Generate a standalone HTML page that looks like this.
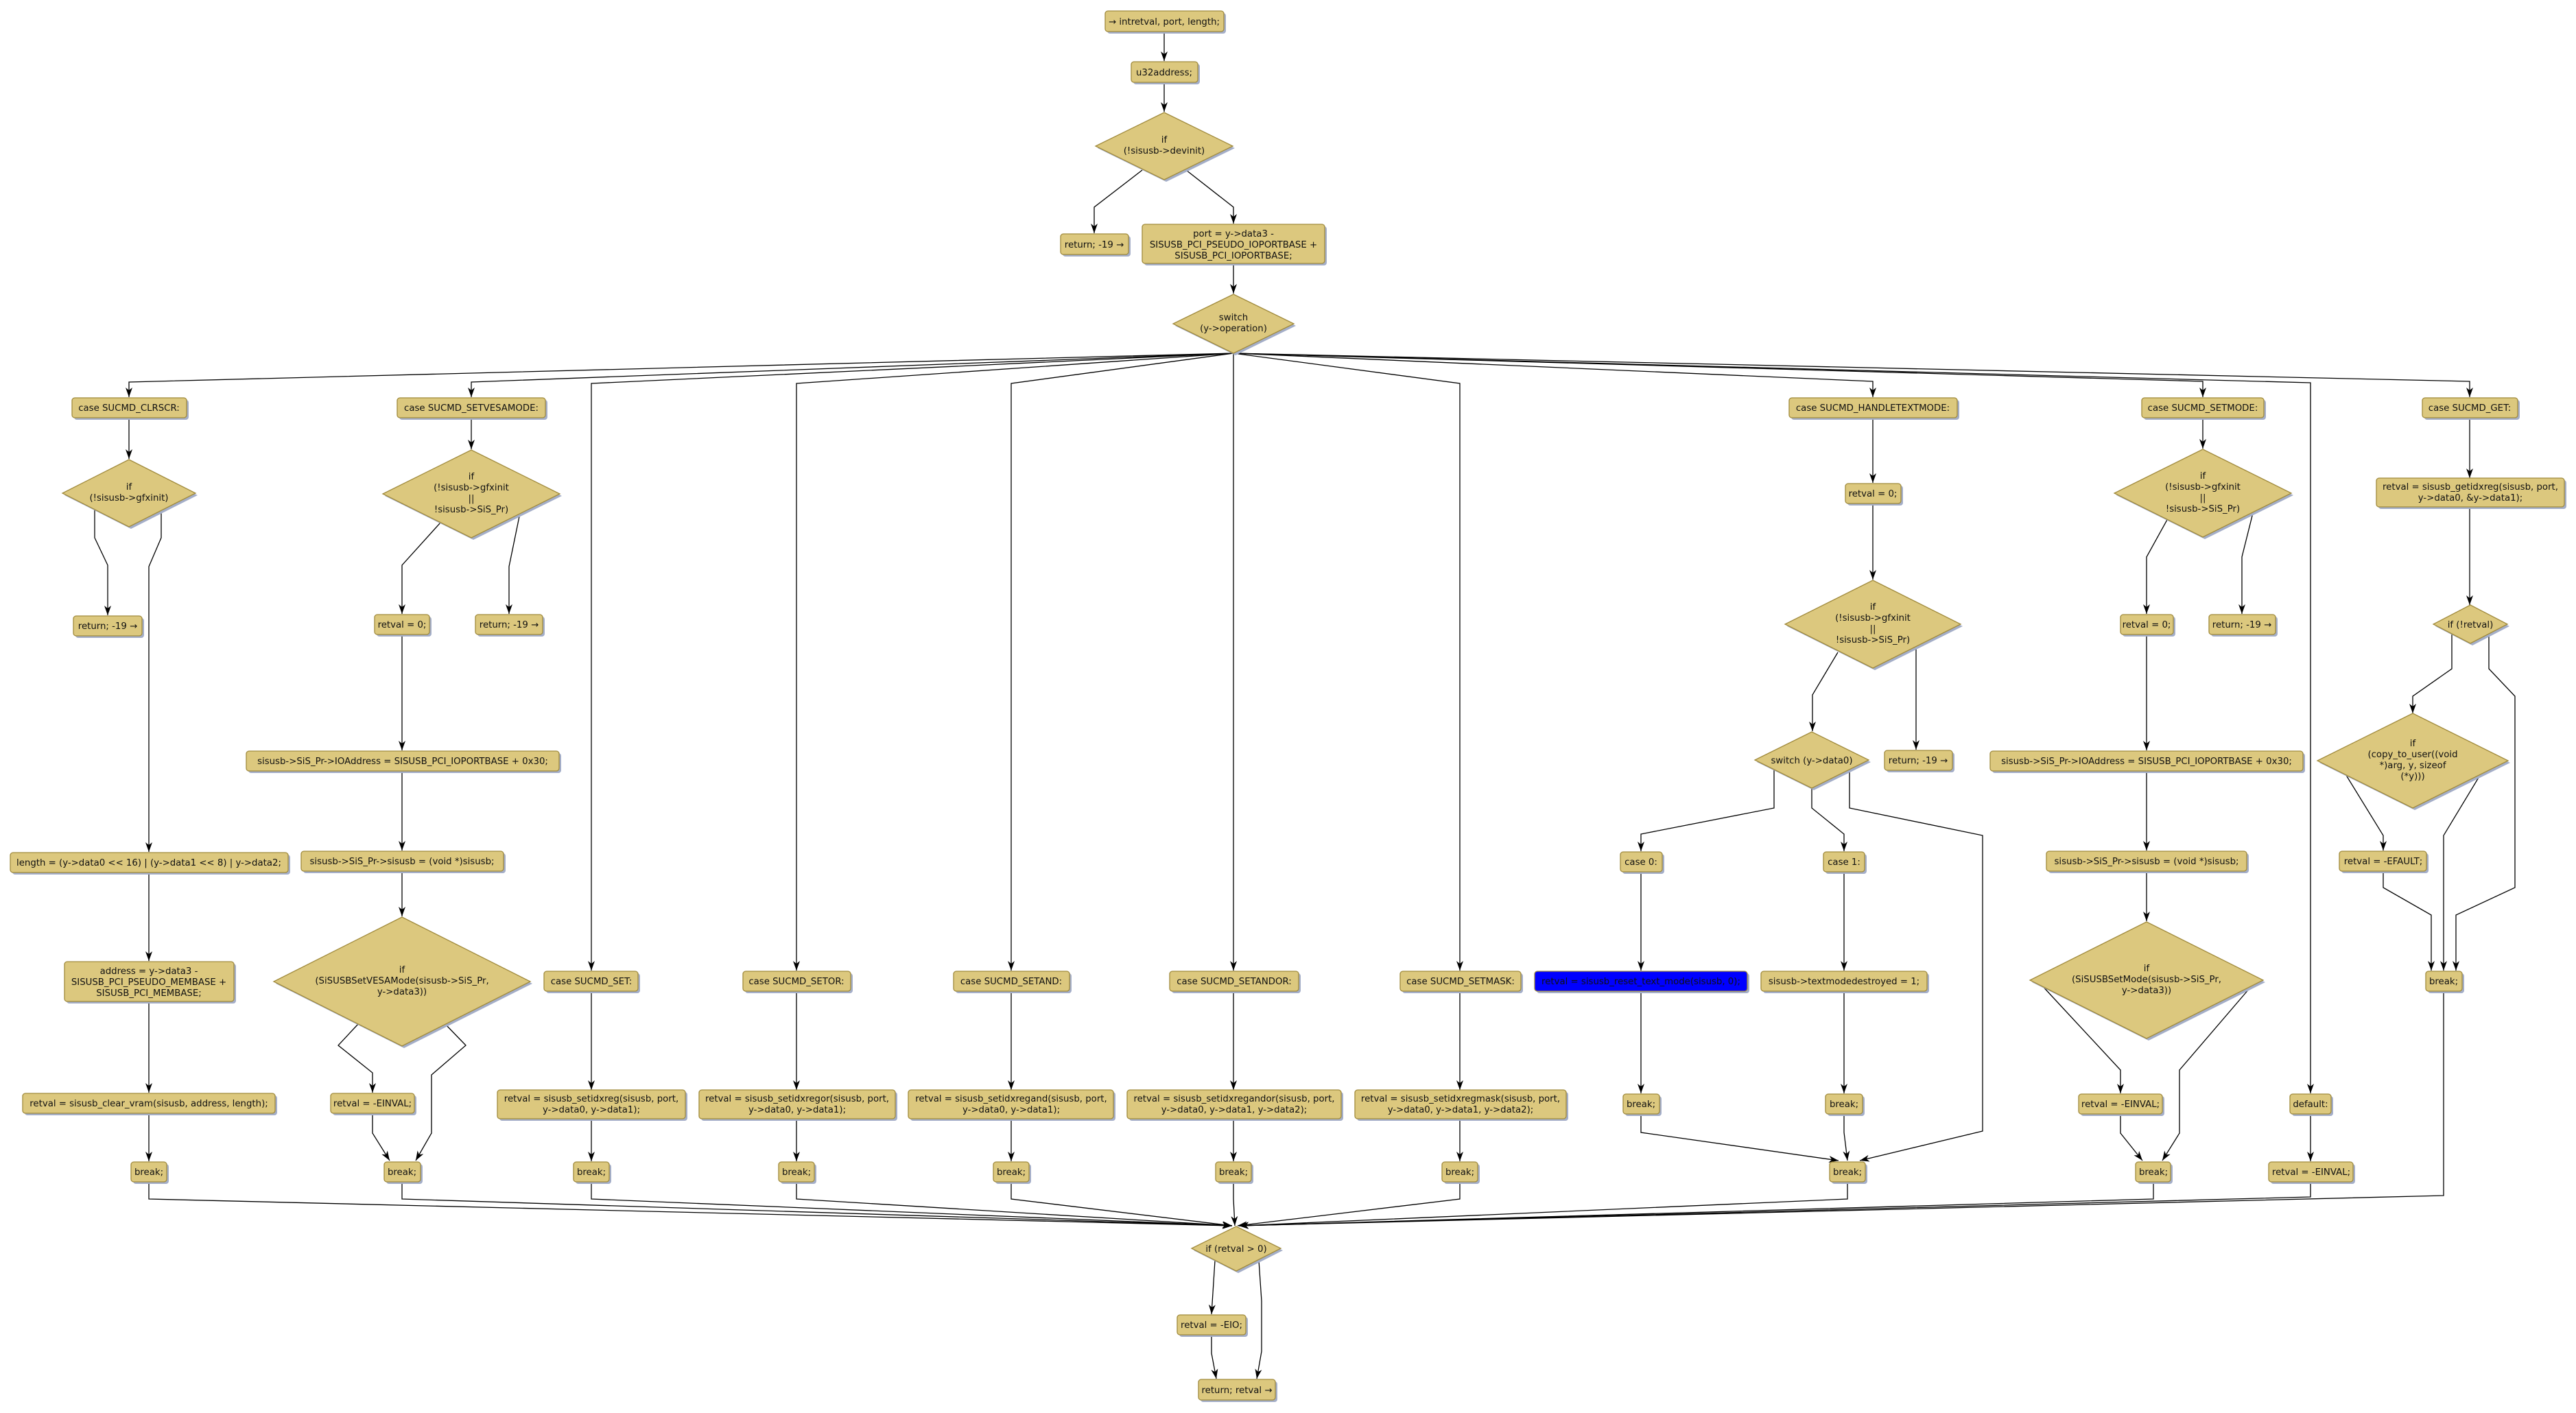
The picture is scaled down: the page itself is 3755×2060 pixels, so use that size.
<!DOCTYPE html>
<html><head><meta charset="utf-8"><style>
html,body{margin:0;padding:0;background:#fff}
svg{display:block}
.b{fill:#dcc87e;stroke:#a08a3c;stroke-width:1.3}
.s{fill:#a4aec8}
.e{fill:none;stroke:#000;stroke-width:1.3}
text{font-family:"DejaVu Sans","Liberation Sans",sans-serif;font-size:13.3px;fill:#111;text-anchor:middle}
</style></head><body>
<svg width="3755" height="2060" viewBox="0 0 3755 2060" xmlns="http://www.w3.org/2000/svg">
<defs><marker id="a" markerWidth="14" markerHeight="10" refX="14" refY="5" orient="auto" markerUnits="userSpaceOnUse"><path d="M0,0 L14,5 L0,10 L4,5 z" fill="#000"/></marker></defs>

<g class="e" marker-end="url(#a)">
<polyline points="1697,46 1697,89"/>
<polyline points="1697,120 1697,163"/>
<polyline points="1665,248 1595,302 1595,340"/>
<polyline points="1729,248 1798,302 1798,326"/>
<polyline points="1798,384 1798,428"/>
<polyline points="1798,515 188,557 188,579"/>
<polyline points="1798,515 687,557 687,579"/>
<polyline points="1798,515 862,559 862,1415"/>
<polyline points="1798,515 1161,559 1161,1415"/>
<polyline points="1798,515 1474,559 1474,1415"/>
<polyline points="1798,515 1798,1415"/>
<polyline points="1798,515 2128,559 2128,1415"/>
<polyline points="1798,515 2730,556 2730,579"/>
<polyline points="1798,515 3211,556 3211,579"/>
<polyline points="1798,515 3368,558 3368,1594"/>
<polyline points="1798,515 3600,556 3600,579"/>
<polyline points="188,609 188,669"/>
<polyline points="138,743 138,784 157,824 157,897"/>
<polyline points="235,743 235,784 217,826 217,1242"/>
<polyline points="217,1273 217,1401"/>
<polyline points="217,1461 217,1593"/>
<polyline points="217,1623 217,1693"/>
<polyline points="687,609 687,655"/>
<polyline points="642,762 586,824 586,895"/>
<polyline points="758,748 742,826 742,895"/>
<polyline points="586,925 586,1094"/>
<polyline points="586,1124 586,1240"/>
<polyline points="586,1270 586,1336"/>
<polyline points="522,1493 493,1524 543,1564 543,1593"/>
<polyline points="649,1493 679,1524 629,1567 629,1652 606,1692"/>
<polyline points="543,1623 543,1652 568,1692"/>
<polyline points="862,1445 862,1589"/>
<polyline points="862,1631 862,1693"/>
<polyline points="1161,1445 1161,1589"/>
<polyline points="1161,1631 1161,1693"/>
<polyline points="1474,1445 1474,1589"/>
<polyline points="1474,1631 1474,1693"/>
<polyline points="1798,1445 1798,1589"/>
<polyline points="1798,1631 1798,1693"/>
<polyline points="2128,1445 2128,1589"/>
<polyline points="2128,1631 2128,1693"/>
<polyline points="2730,609 2730,704"/>
<polyline points="2730,734 2730,845"/>
<polyline points="2679,951 2642,1013 2642,1066"/>
<polyline points="2793,943 2793,1093"/>
<polyline points="2586,1121 2586,1178 2392,1216 2392,1241"/>
<polyline points="2641,1149 2641,1178 2688,1216 2688,1241"/>
<polyline points="2696,1121 2696,1178 2890,1218 2890,1649 2711,1692"/>
<polyline points="2392,1271 2392,1415"/>
<polyline points="2688,1271 2688,1415"/>
<polyline points="2392,1445 2392,1594"/>
<polyline points="2688,1445 2688,1594"/>
<polyline points="2392,1624 2392,1651 2680,1692"/>
<polyline points="2688,1624 2688,1651 2693,1692"/>
<polyline points="3211,609 3211,654"/>
<polyline points="3160,756 3129,812 3129,895"/>
<polyline points="3284,748 3268,812 3268,895"/>
<polyline points="3129,925 3129,1094"/>
<polyline points="3129,1124 3129,1240"/>
<polyline points="3129,1270 3129,1343"/>
<polyline points="2974,1434 3091,1560 3091,1594"/>
<polyline points="3285,1434 3177,1560 3177,1652 3152,1692"/>
<polyline points="3091,1624 3091,1652 3123,1692"/>
<polyline points="3368,1624 3368,1693"/>
<polyline points="3600,609 3600,697"/>
<polyline points="3600,739 3600,882"/>
<polyline points="3574,925 3574,975 3517,1015 3517,1040"/>
<polyline points="3628,925 3628,975 3666,1015 3666,1294 3580,1334 3580,1415"/>
<polyline points="3418,1127 3474,1218 3474,1240"/>
<polyline points="3617,1127 3562,1218 3562,1415"/>
<polyline points="3474,1270 3474,1294 3544,1334 3544,1415"/>
<polyline points="217,1723 217,1748 1796,1787"/>
<polyline points="586,1723 586,1748 1796,1787"/>
<polyline points="862,1723 862,1748 1796,1787"/>
<polyline points="1161,1723 1161,1748 1796,1787"/>
<polyline points="1474,1723 1474,1748 1796,1787"/>
<polyline points="1798,1723 1798,1748 1800,1787"/>
<polyline points="2128,1723 2128,1748 1804,1787"/>
<polyline points="2693,1723 2693,1748 1806,1787"/>
<polyline points="3139,1723 3139,1748 1806,1787"/>
<polyline points="3368,1723 3368,1745 1806,1787"/>
<polyline points="3562,1445 3562,1743 1806,1787"/>
<polyline points="1771,1838 1766,1916"/>
<polyline points="1835,1838 1839,1897 1839,1970 1832,2010"/>
<polyline points="1766,1947 1766,1973 1773,2010"/>
</g>

<g>
<rect class="s" x="1614" y="19" width="173" height="30" rx="4"/><rect class="b" x="1611" y="16" width="173" height="30" rx="4"/><text x="1697" y="36">→ intretval, port, length;</text>
<rect class="s" x="1652" y="93" width="97" height="30" rx="4"/><rect class="b" x="1649" y="90" width="97" height="30" rx="4"/><text x="1697" y="110">u32address;</text>
<polygon class="s" points="1700,167 1800,216 1700,265 1600,216"/><polygon class="b" points="1697,164 1797,213 1697,262 1597,213"/><text x="1697" y="208">if</text><text x="1697" y="224">(!sisusb-&gt;devinit)</text>
<rect class="s" x="1549" y="344" width="99" height="30" rx="4"/><rect class="b" x="1546" y="341" width="99" height="30" rx="4"/><text x="1595" y="361">return; -19 →</text>
<rect class="s" x="1668" y="330" width="266" height="57" rx="4"/><rect class="b" x="1665" y="327" width="266" height="57" rx="4"/><text x="1798" y="345">port = y-&gt;data3 -</text><text x="1798" y="361">SISUSB_PCI_PSEUDO_IOPORTBASE +</text><text x="1798" y="377">SISUSB_PCI_IOPORTBASE;</text>
<polygon class="s" points="1801,432 1889,475 1801,518 1713,475"/><polygon class="b" points="1798,429 1886,472 1798,515 1710,472"/><text x="1798" y="467">switch</text><text x="1798" y="483">(y-&gt;operation)</text>

<rect class="s" x="108" y="583" width="167" height="29" rx="4"/><rect class="b" x="105" y="580" width="167" height="29" rx="4"/><text x="188" y="599">case SUCMD_CLRSCR:</text>
<rect class="s" x="582" y="583" width="216" height="29" rx="4"/><rect class="b" x="579" y="580" width="216" height="29" rx="4"/><text x="687" y="599">case SUCMD_SETVESAMODE:</text>
<rect class="s" x="2611" y="583" width="245" height="29" rx="4"/><rect class="b" x="2608" y="580" width="245" height="29" rx="4"/><text x="2730" y="599">case SUCMD_HANDLETEXTMODE:</text>
<rect class="s" x="3125" y="583" width="178" height="29" rx="4"/><rect class="b" x="3122" y="580" width="178" height="29" rx="4"/><text x="3211" y="599">case SUCMD_SETMODE:</text>
<rect class="s" x="3534" y="583" width="139" height="29" rx="4"/><rect class="b" x="3531" y="580" width="139" height="29" rx="4"/><text x="3600" y="599">case SUCMD_GET:</text>

<polygon class="s" points="191,673 288,722 191,771 94,722"/><polygon class="b" points="188,670 285,719 188,768 91,719"/><text x="188" y="714">if</text><text x="188" y="730">(!sisusb-&gt;gfxinit)</text>
<rect class="s" x="110" y="901" width="100" height="29" rx="4"/><rect class="b" x="107" y="898" width="100" height="29" rx="4"/><text x="157" y="917">return; -19 →</text>
<rect class="s" x="18" y="1246" width="405" height="29" rx="4"/><rect class="b" x="15" y="1243" width="405" height="29" rx="4"/><text x="217" y="1262">length = (y-&gt;data0 &lt;&lt; 16) | (y-&gt;data1 &lt;&lt; 8) | y-&gt;data2;</text>
<rect class="s" x="97" y="1405" width="247" height="58" rx="4"/><rect class="b" x="94" y="1402" width="247" height="58" rx="4"/><text x="217" y="1420">address = y-&gt;data3 -</text><text x="217" y="1436">SISUSB_PCI_PSEUDO_MEMBASE +</text><text x="217" y="1452">SISUSB_PCI_MEMBASE;</text>
<rect class="s" x="36" y="1597" width="368" height="29" rx="4"/><rect class="b" x="33" y="1594" width="368" height="29" rx="4"/><text x="217" y="1613">retval = sisusb_clear_vram(sisusb, address, length);</text>
<rect class="s" x="194" y="1697" width="52" height="29" rx="4"/><rect class="b" x="191" y="1694" width="52" height="29" rx="4"/><text x="217" y="1713">break;</text>

<polygon class="s" points="690,659 819,723 690,787 561,723"/><polygon class="b" points="687,656 816,720 687,784 558,720"/><text x="687" y="699">if</text><text x="687" y="715">(!sisusb-&gt;gfxinit</text><text x="687" y="731">||</text><text x="687" y="747">!sisusb-&gt;SiS_Pr)</text>
<rect class="s" x="549" y="899" width="80" height="29" rx="4"/><rect class="b" x="546" y="896" width="80" height="29" rx="4"/><text x="586" y="915">retval = 0;</text>
<rect class="s" x="696" y="899" width="98" height="29" rx="4"/><rect class="b" x="693" y="896" width="98" height="29" rx="4"/><text x="742" y="915">return; -19 →</text>
<rect class="s" x="362" y="1098" width="456" height="29" rx="4"/><rect class="b" x="359" y="1095" width="456" height="29" rx="4"/><text x="587" y="1114">sisusb-&gt;SiS_Pr-&gt;IOAddress = SISUSB_PCI_IOPORTBASE + 0x30;</text>
<rect class="s" x="442" y="1244" width="295" height="29" rx="4"/><rect class="b" x="439" y="1241" width="295" height="29" rx="4"/><text x="586" y="1260">sisusb-&gt;SiS_Pr-&gt;sisusb = (void *)sisusb;</text>
<polygon class="s" points="589,1340 776,1434 589,1528 402,1434"/><polygon class="b" points="586,1337 773,1431 586,1525 399,1431"/><text x="586" y="1418">if</text><text x="586" y="1434">(SiSUSBSetVESAMode(sisusb-&gt;SiS_Pr,</text><text x="586" y="1450">y-&gt;data3))</text>
<rect class="s" x="485" y="1597" width="122" height="29" rx="4"/><rect class="b" x="482" y="1594" width="122" height="29" rx="4"/><text x="543" y="1613">retval = -EINVAL;</text>
<rect class="s" x="563" y="1697" width="53" height="29" rx="4"/><rect class="b" x="560" y="1694" width="53" height="29" rx="4"/><text x="586" y="1713">break;</text>

<rect class="s" x="796" y="1419" width="137" height="29" rx="4"/><rect class="b" x="793" y="1416" width="137" height="29" rx="4"/><text x="862" y="1435">case SUCMD_SET:</text>
<rect class="s" x="728" y="1592" width="274" height="42" rx="4"/><rect class="b" x="725" y="1589" width="274" height="42" rx="4"/><text x="862" y="1606">retval = sisusb_setidxreg(sisusb, port,</text><text x="862" y="1622">y-&gt;data0, y-&gt;data1);</text>
<rect class="s" x="839" y="1697" width="52" height="29" rx="4"/><rect class="b" x="836" y="1694" width="52" height="29" rx="4"/><text x="862" y="1713">break;</text>

<rect class="s" x="1086" y="1419" width="157" height="29" rx="4"/><rect class="b" x="1083" y="1416" width="157" height="29" rx="4"/><text x="1161" y="1435">case SUCMD_SETOR:</text>
<rect class="s" x="1022" y="1592" width="286" height="42" rx="4"/><rect class="b" x="1019" y="1589" width="286" height="42" rx="4"/><text x="1162" y="1606">retval = sisusb_setidxregor(sisusb, port,</text><text x="1162" y="1622">y-&gt;data0, y-&gt;data1);</text>
<rect class="s" x="1138" y="1697" width="52" height="29" rx="4"/><rect class="b" x="1135" y="1694" width="52" height="29" rx="4"/><text x="1161" y="1713">break;</text>

<rect class="s" x="1393" y="1419" width="169" height="29" rx="4"/><rect class="b" x="1390" y="1416" width="169" height="29" rx="4"/><text x="1474" y="1435">case SUCMD_SETAND:</text>
<rect class="s" x="1327" y="1592" width="299" height="42" rx="4"/><rect class="b" x="1324" y="1589" width="299" height="42" rx="4"/><text x="1474" y="1606">retval = sisusb_setidxregand(sisusb, port,</text><text x="1474" y="1622">y-&gt;data0, y-&gt;data1);</text>
<rect class="s" x="1451" y="1697" width="52" height="29" rx="4"/><rect class="b" x="1448" y="1694" width="52" height="29" rx="4"/><text x="1474" y="1713">break;</text>

<rect class="s" x="1708" y="1419" width="188" height="29" rx="4"/><rect class="b" x="1705" y="1416" width="188" height="29" rx="4"/><text x="1799" y="1435">case SUCMD_SETANDOR:</text>
<rect class="s" x="1646" y="1592" width="312" height="42" rx="4"/><rect class="b" x="1643" y="1589" width="312" height="42" rx="4"/><text x="1799" y="1606">retval = sisusb_setidxregandor(sisusb, port,</text><text x="1799" y="1622">y-&gt;data0, y-&gt;data1, y-&gt;data2);</text>
<rect class="s" x="1775" y="1697" width="52" height="29" rx="4"/><rect class="b" x="1772" y="1694" width="52" height="29" rx="4"/><text x="1798" y="1713">break;</text>

<rect class="s" x="2044" y="1419" width="176" height="29" rx="4"/><rect class="b" x="2041" y="1416" width="176" height="29" rx="4"/><text x="2129" y="1435">case SUCMD_SETMASK:</text>
<rect class="s" x="1978" y="1592" width="308" height="42" rx="4"/><rect class="b" x="1975" y="1589" width="308" height="42" rx="4"/><text x="2129" y="1606">retval = sisusb_setidxregmask(sisusb, port,</text><text x="2129" y="1622">y-&gt;data0, y-&gt;data1, y-&gt;data2);</text>
<rect class="s" x="2105" y="1697" width="52" height="29" rx="4"/><rect class="b" x="2102" y="1694" width="52" height="29" rx="4"/><text x="2128" y="1713">break;</text>

<rect class="s" x="2693" y="708" width="81" height="29" rx="4"/><rect class="b" x="2690" y="705" width="81" height="29" rx="4"/><text x="2730" y="724">retval = 0;</text>
<polygon class="s" points="2733,849 2861,913 2733,977 2605,913"/><polygon class="b" points="2730,846 2858,910 2730,974 2602,910"/><text x="2730" y="889">if</text><text x="2730" y="905">(!sisusb-&gt;gfxinit</text><text x="2730" y="921">||</text><text x="2730" y="937">!sisusb-&gt;SiS_Pr)</text>
<polygon class="s" points="2644,1070 2727,1111 2644,1152 2561,1111"/><polygon class="b" points="2641,1067 2724,1108 2641,1149 2558,1108"/><text x="2641" y="1113">switch (y-&gt;data0)</text>
<rect class="s" x="2750" y="1097" width="99" height="29" rx="4"/><rect class="b" x="2747" y="1094" width="99" height="29" rx="4"/><text x="2796" y="1113">return; -19 →</text>
<rect class="s" x="2365" y="1245" width="61" height="29" rx="4"/><rect class="b" x="2362" y="1242" width="61" height="29" rx="4"/><text x="2392" y="1261">case 0:</text>
<rect class="s" x="2661" y="1245" width="60" height="29" rx="4"/><rect class="b" x="2658" y="1242" width="60" height="29" rx="4"/><text x="2688" y="1261">case 1:</text>
<rect class="s" x="2240" y="1419" width="310" height="29" rx="4"/><rect x="2237" y="1416" width="310" height="29" rx="4" fill="#0000ff" stroke="#a08a3c" stroke-width="1.3"/><text x="2392" y="1435">retval = sisusb_reset_text_mode(sisusb, 0);</text>
<rect class="s" x="2570" y="1419" width="242" height="29" rx="4"/><rect class="b" x="2567" y="1416" width="242" height="29" rx="4"/><text x="2688" y="1435">sisusb-&gt;textmodedestroyed = 1;</text>
<rect class="s" x="2369" y="1598" width="53" height="29" rx="4"/><rect class="b" x="2366" y="1595" width="53" height="29" rx="4"/><text x="2392" y="1614">break;</text>
<rect class="s" x="2664" y="1598" width="54" height="29" rx="4"/><rect class="b" x="2661" y="1595" width="54" height="29" rx="4"/><text x="2688" y="1614">break;</text>
<rect class="s" x="2670" y="1697" width="52" height="29" rx="4"/><rect class="b" x="2667" y="1694" width="52" height="29" rx="4"/><text x="2693" y="1713">break;</text>

<polygon class="s" points="3214,658 3343,722 3214,786 3085,722"/><polygon class="b" points="3211,655 3340,719 3211,783 3082,719"/><text x="3211" y="698">if</text><text x="3211" y="714">(!sisusb-&gt;gfxinit</text><text x="3211" y="730">||</text><text x="3211" y="746">!sisusb-&gt;SiS_Pr)</text>
<rect class="s" x="3094" y="899" width="77" height="29" rx="4"/><rect class="b" x="3091" y="896" width="77" height="29" rx="4"/><text x="3129" y="915">retval = 0;</text>
<rect class="s" x="3223" y="899" width="97" height="29" rx="4"/><rect class="b" x="3220" y="896" width="97" height="29" rx="4"/><text x="3268" y="915">return; -19 →</text>
<rect class="s" x="2904" y="1098" width="456" height="29" rx="4"/><rect class="b" x="2901" y="1095" width="456" height="29" rx="4"/><text x="3129" y="1114">sisusb-&gt;SiS_Pr-&gt;IOAddress = SISUSB_PCI_IOPORTBASE + 0x30;</text>
<rect class="s" x="2986" y="1244" width="292" height="29" rx="4"/><rect class="b" x="2983" y="1241" width="292" height="29" rx="4"/><text x="3129" y="1260">sisusb-&gt;SiS_Pr-&gt;sisusb = (void *)sisusb;</text>
<polygon class="s" points="3132,1347 3302,1432 3132,1517 2962,1432"/><polygon class="b" points="3129,1344 3299,1429 3129,1514 2959,1429"/><text x="3129" y="1416">if</text><text x="3129" y="1432">(SiSUSBSetMode(sisusb-&gt;SiS_Pr,</text><text x="3129" y="1448">y-&gt;data3))</text>
<rect class="s" x="3033" y="1598" width="122" height="29" rx="4"/><rect class="b" x="3030" y="1595" width="122" height="29" rx="4"/><text x="3091" y="1614">retval = -EINVAL;</text>
<rect class="s" x="3116" y="1697" width="51" height="29" rx="4"/><rect class="b" x="3113" y="1694" width="51" height="29" rx="4"/><text x="3139" y="1713">break;</text>
<rect class="s" x="3341" y="1598" width="60" height="29" rx="4"/><rect class="b" x="3338" y="1595" width="60" height="29" rx="4"/><text x="3368" y="1614">default:</text>
<rect class="s" x="3310" y="1697" width="123" height="29" rx="4"/><rect class="b" x="3307" y="1694" width="123" height="29" rx="4"/><text x="3369" y="1713">retval = -EINVAL;</text>

<rect class="s" x="3467" y="700" width="274" height="42" rx="4"/><rect class="b" x="3464" y="697" width="274" height="42" rx="4"/><text x="3601" y="714">retval = sisusb_getidxreg(sisusb, port,</text><text x="3601" y="730">y-&gt;data0, &amp;y-&gt;data1);</text>
<polygon class="s" points="3604,885 3658,913 3604,941 3550,913"/><polygon class="b" points="3601,882 3655,910 3601,938 3547,910"/><text x="3601" y="915">if (!retval)</text>
<polygon class="s" points="3520,1043 3659,1112 3520,1181 3381,1112"/><polygon class="b" points="3517,1040 3656,1109 3517,1178 3378,1109"/><text x="3517" y="1088">if</text><text x="3517" y="1104">(copy_to_user((void</text><text x="3517" y="1120">*)arg, y, sizeof</text><text x="3517" y="1136">(*y)))</text>
<rect class="s" x="3413" y="1244" width="127" height="29" rx="4"/><rect class="b" x="3410" y="1241" width="127" height="29" rx="4"/><text x="3474" y="1260">retval = -EFAULT;</text>
<rect class="s" x="3539" y="1419" width="53" height="29" rx="4"/><rect class="b" x="3536" y="1416" width="53" height="29" rx="4"/><text x="3562" y="1435">break;</text>

<polygon class="s" points="1805,1791 1870,1823 1805,1856 1740,1823"/><polygon class="b" points="1802,1788 1867,1820 1802,1853 1737,1820"/><text x="1802" y="1825">if (retval &gt; 0)</text>
<rect class="s" x="1719" y="1920" width="100" height="29" rx="4"/><rect class="b" x="1716" y="1917" width="100" height="29" rx="4"/><text x="1766" y="1936">retval = -EIO;</text>
<rect class="s" x="1750" y="2014" width="112" height="30" rx="4"/><rect class="b" x="1747" y="2011" width="112" height="30" rx="4"/><text x="1803" y="2031">return; retval →</text>
</g>
</svg>
</body></html>
